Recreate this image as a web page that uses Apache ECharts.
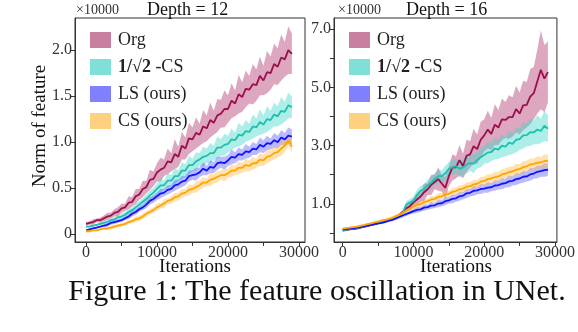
<!DOCTYPE html>
<html>
<head>
<meta charset="utf-8">
<script src="https://cdn.jsdelivr.net/npm/echarts@6/dist/echarts.min.js"></script>
<style>
html,body{margin:0;padding:0;background:#fff;}
#c{width:578px;height:332px;}
</style>
</head>
<body>
<div id="c"></div>
<script>
// Iteration grid (x values)
const ITER = [0,500,1000,1500,2000,2500,3000,3500,4000,4500,
  5000,5500,6000,6500,7000,7500,8000,8500,9000,9500,
  10000,10500,11000,11500,12000,12500,13000,13500,14000,14500,
  15000,15500,16000,16500,17000,17500,18000,18500,19000,19500,
  20000,20500,21000,21500,22000,22500,23000,23500,24000,24500,
  25000,25500,26000,26500,27000,27500,28000,28500,29000];

const SERIES_NAMES = ['Org','1/√2 -CS','LS (ours)','CS (ours)'];

// ---------- Depth = 12 (×10000) ----------
const d12_org = [0.11,0.12,0.13,0.15,0.15,0.17,0.19,0.20,0.23,0.24,
  0.28,0.29,0.34,0.35,0.41,0.43,0.49,0.51,0.59,0.60,
  0.67,0.70,0.72,0.79,0.78,0.87,0.84,0.96,0.93,1.04,
  1.03,1.10,1.08,1.17,1.15,1.24,1.21,1.29,1.31,1.36,
  1.36,1.45,1.42,1.52,1.49,1.58,1.57,1.63,1.62,1.72,
  1.67,1.76,1.75,1.85,1.82,1.92,1.90,2.00,1.96];
const d12_org_sd = [0.02,0.02,0.03,0.02,0.03,0.03,0.04,0.03,0.04,0.05,
  0.05,0.04,0.07,0.05,0.08,0.06,0.09,0.07,0.11,0.08,
  0.10,0.13,0.09,0.14,0.10,0.16,0.11,0.15,0.12,0.17,
  0.13,0.17,0.12,0.18,0.14,0.19,0.13,0.18,0.15,0.20,
  0.15,0.19,0.14,0.21,0.16,0.20,0.15,0.22,0.17,0.21,
  0.16,0.23,0.18,0.22,0.20,0.25,0.19,0.26,0.22];
const d12_cs2 = [0.08,0.08,0.09,0.10,0.11,0.12,0.13,0.15,0.16,0.18,
  0.19,0.21,0.24,0.26,0.29,0.32,0.35,0.38,0.42,0.45,
  0.49,0.53,0.53,0.58,0.58,0.63,0.63,0.69,0.69,0.75,
  0.75,0.79,0.81,0.84,0.85,0.88,0.88,0.94,0.94,0.97,
  0.98,1.03,1.02,1.08,1.07,1.12,1.11,1.17,1.16,1.22,
  1.19,1.25,1.24,1.30,1.28,1.34,1.33,1.40,1.38];
const d12_cs2_sd = [0.01,0.01,0.01,0.01,0.01,0.02,0.02,0.02,0.02,0.02,
  0.03,0.03,0.03,0.03,0.04,0.04,0.04,0.05,0.05,0.05,
  0.06,0.08,0.05,0.08,0.06,0.09,0.06,0.09,0.07,0.10,
  0.07,0.10,0.07,0.11,0.08,0.11,0.08,0.12,0.09,0.12,
  0.09,0.12,0.08,0.13,0.10,0.12,0.09,0.13,0.10,0.14,
  0.10,0.14,0.10,0.13,0.11,0.15,0.11,0.14,0.12];
const d12_ls = [0.04,0.05,0.06,0.07,0.08,0.09,0.10,0.12,0.13,0.14,
  0.15,0.17,0.19,0.22,0.24,0.27,0.29,0.32,0.36,0.38,
  0.41,0.44,0.45,0.48,0.49,0.53,0.54,0.57,0.58,0.63,
  0.64,0.65,0.67,0.71,0.69,0.73,0.72,0.77,0.78,0.77,
  0.80,0.84,0.83,0.87,0.86,0.90,0.89,0.93,0.92,0.97,
  0.95,0.99,0.98,1.02,1.00,1.05,1.03,1.07,1.06];
const d12_ls_sd = [0.01,0.01,0.01,0.01,0.01,0.01,0.02,0.02,0.02,0.02,
  0.02,0.02,0.03,0.03,0.03,0.03,0.03,0.04,0.04,0.04,
  0.04,0.05,0.04,0.05,0.04,0.06,0.05,0.06,0.05,0.06,
  0.05,0.07,0.05,0.07,0.05,0.07,0.06,0.07,0.06,0.07,
  0.06,0.08,0.06,0.07,0.06,0.08,0.06,0.07,0.06,0.08,
  0.07,0.08,0.06,0.08,0.07,0.08,0.07,0.09,0.08];
const d12_cs = [0.03,0.03,0.04,0.04,0.05,0.06,0.06,0.07,0.08,0.09,
  0.10,0.11,0.13,0.14,0.16,0.17,0.19,0.22,0.24,0.26,
  0.29,0.31,0.33,0.36,0.37,0.40,0.41,0.44,0.45,0.48,
  0.49,0.51,0.53,0.56,0.56,0.59,0.60,0.62,0.64,0.64,
  0.66,0.69,0.69,0.72,0.72,0.75,0.74,0.77,0.77,0.81,
  0.80,0.84,0.85,0.88,0.89,0.93,0.96,1.02,0.95];
const d12_cs_sd = [0.01,0.01,0.01,0.01,0.01,0.01,0.01,0.02,0.02,0.02,
  0.02,0.02,0.02,0.02,0.03,0.03,0.03,0.03,0.03,0.03,
  0.04,0.03,0.05,0.03,0.04,0.05,0.04,0.05,0.04,0.06,
  0.04,0.06,0.05,0.06,0.04,0.07,0.05,0.06,0.05,0.07,
  0.05,0.07,0.05,0.07,0.05,0.07,0.06,0.07,0.05,0.07,
  0.06,0.07,0.06,0.07,0.06,0.08,0.07,0.06,0.07];

// ---------- Depth = 16 (×10000) ----------
const d16_org = [0.08,0.10,0.12,0.13,0.15,0.18,0.21,0.24,0.27,0.30,
  0.33,0.36,0.40,0.44,0.48,0.55,0.62,0.72,0.85,0.92,
  1.05,1.15,1.25,1.40,1.50,1.65,1.75,1.85,1.70,1.55,
  1.95,2.25,2.25,2.50,2.30,2.65,2.70,2.98,2.88,3.20,
  3.35,3.55,3.40,3.72,3.62,3.90,3.88,3.98,3.98,4.25,
  4.10,4.38,4.40,4.68,4.80,5.20,5.60,5.30,5.52];
const d16_org_sd = [0.02,0.02,0.02,0.02,0.02,0.03,0.03,0.03,0.03,0.03,
  0.03,0.03,0.04,0.04,0.04,0.05,0.05,0.07,0.10,0.12,
  0.15,0.22,0.18,0.30,0.20,0.35,0.25,0.40,0.28,0.38,
  0.35,0.45,0.38,0.52,0.42,0.55,0.45,0.60,0.50,0.62,
  0.55,0.65,0.55,0.70,0.60,0.72,0.62,0.75,0.68,0.80,
  0.72,0.85,0.78,0.95,0.90,1.10,1.35,1.15,1.05];
const d16_cs2 = [0.10,0.11,0.13,0.15,0.17,0.20,0.23,0.25,0.28,0.31,
  0.34,0.37,0.40,0.44,0.48,0.52,0.58,0.70,0.98,1.05,
  1.10,1.30,1.45,1.50,1.65,1.72,1.85,1.95,1.95,2.05,
  2.20,2.25,2.30,2.20,2.25,2.35,2.40,2.38,2.50,2.60,
  2.68,2.76,2.78,2.90,2.86,3.00,2.96,3.10,3.06,3.20,
  3.22,3.35,3.36,3.46,3.45,3.55,3.50,3.68,3.58];
const d16_cs2_sd = [0.02,0.02,0.02,0.02,0.02,0.02,0.03,0.03,0.03,0.03,
  0.03,0.03,0.04,0.04,0.04,0.05,0.06,0.08,0.12,0.12,
  0.15,0.18,0.16,0.20,0.18,0.22,0.19,0.24,0.20,0.26,
  0.23,0.28,0.24,0.30,0.25,0.32,0.27,0.33,0.28,0.35,
  0.30,0.37,0.31,0.38,0.32,0.40,0.33,0.42,0.35,0.44,
  0.36,0.46,0.38,0.47,0.40,0.50,0.42,0.52,0.46];
const d16_ls = [0.12,0.13,0.15,0.16,0.18,0.20,0.23,0.25,0.28,0.30,
  0.33,0.35,0.38,0.42,0.45,0.50,0.55,0.60,0.65,0.70,
  0.75,0.79,0.81,0.87,0.89,0.94,0.95,1.01,1.02,1.09,
  1.12,1.17,1.19,1.26,1.28,1.36,1.38,1.45,1.46,1.51,
  1.52,1.56,1.57,1.63,1.64,1.69,1.71,1.77,1.79,1.85,
  1.87,1.93,1.94,2.01,2.04,2.10,2.12,2.16,2.17];
const d16_ls_sd = [0.03,0.03,0.03,0.03,0.03,0.03,0.04,0.04,0.04,0.04,
  0.04,0.05,0.05,0.05,0.05,0.06,0.06,0.06,0.07,0.07,
  0.08,0.10,0.08,0.11,0.09,0.12,0.09,0.13,0.10,0.14,
  0.11,0.15,0.12,0.15,0.12,0.16,0.13,0.17,0.13,0.17,
  0.14,0.18,0.14,0.18,0.15,0.19,0.15,0.20,0.16,0.20,
  0.17,0.21,0.17,0.22,0.18,0.22,0.19,0.23,0.21];
const d16_cs = [0.15,0.17,0.18,0.20,0.22,0.24,0.27,0.30,0.33,0.36,
  0.39,0.42,0.45,0.48,0.52,0.57,0.62,0.69,0.76,0.83,
  0.90,0.96,0.99,1.06,1.09,1.15,1.17,1.24,1.26,1.32,
  1.34,1.41,1.44,1.50,1.52,1.59,1.61,1.67,1.69,1.76,
  1.79,1.85,1.87,1.92,1.94,2.01,2.04,2.09,2.11,2.17,
  2.19,2.26,2.29,2.35,2.37,2.41,2.42,2.47,2.48];
const d16_cs_sd = [0.03,0.03,0.03,0.03,0.03,0.04,0.04,0.04,0.04,0.04,
  0.05,0.05,0.05,0.05,0.06,0.06,0.06,0.07,0.07,0.08,
  0.08,0.10,0.08,0.11,0.09,0.12,0.10,0.12,0.11,0.13,
  0.11,0.14,0.12,0.14,0.13,0.15,0.13,0.16,0.14,0.16,
  0.15,0.17,0.15,0.18,0.16,0.18,0.17,0.19,0.17,0.20,
  0.18,0.20,0.19,0.21,0.19,0.22,0.20,0.22,0.22];

// tick / label values
const X_TICKS = [0,5000,10000,15000,20000,25000,30000];
const X_LABELS = [0,10000,20000,30000];
const Y12_TICKS = [0,0.5,1.0,1.5,2.0];
const Y16_TICKS = [0,1,2,3,4,5,6,7];
const Y16_LABELS = [1,3,5,7];

const LINE_COLORS = ['#9c0e4c','#1fbfae','#1212ff','#ffa500'];
const BAND_COLORS = ['rgba(180,60,115,0.45)','rgba(60,215,200,0.42)','rgba(90,90,255,0.42)','rgba(255,185,70,0.42)'];
const LEGEND_COLORS = ['#c97f9f','#7fe0d8','#8080ff','#ffd080'];

const SERIF = '"Liberation Serif","Times New Roman",serif';

// shaded band (mean ± sd) drawn as a polygon through the axis scales
function band(g, idx, mean, sd) {
  return {
    type:'custom', name:SERIES_NAMES[idx], xAxisIndex:g, yAxisIndex:g, silent:true, z:2,
    data:[[ITER[0], mean[0]]],
    encode:{x:0, y:1},
    clip:true,
    itemStyle:{color:LEGEND_COLORS[idx]},
    renderItem:(params, api) => {
      const up = mean.map((m, i) => api.coord([ITER[i], m + sd[i]]));
      const dn = mean.map((m, i) => api.coord([ITER[i], m - sd[i]])).reverse();
      return {type:'polygon', shape:{points:up.concat(dn)}, style:{fill:BAND_COLORS[idx]}};
    }
  };
}
function line(g, idx, mean) {
  return {type:'line', name:SERIES_NAMES[idx], xAxisIndex:g, yAxisIndex:g,
    data: mean.map((m, i) => [ITER[i], m]), symbol:'none', silent:true,
    lineStyle:{color:LINE_COLORS[idx], width:1.8}, itemStyle:{color:LINE_COLORS[idx]}, z:3};
}

const panels = [
  [d12_org, d12_org_sd, d12_cs2, d12_cs2_sd, d12_ls, d12_ls_sd, d12_cs, d12_cs_sd],
  [d16_org, d16_org_sd, d16_cs2, d16_cs2_sd, d16_ls, d16_ls_sd, d16_cs, d16_cs_sd]
];
const series = [];
panels.forEach((p, g) => {
  for (let k = 0; k < 4; k++) series.push(band(g, k, p[2*k], p[2*k+1]));
  for (let k = 0; k < 4; k++) series.push(line(g, k, p[2*k]));
});

const axisCommon = {
  type:'value', splitLine:{show:false},
  axisLine:{show:true, onZero:false, lineStyle:{color:'#333', width:1}},
  axisTick:{show:true, length:4, lineStyle:{color:'#333'}},
};
const lblStyle = {fontFamily:SERIF, fontSize:16, color:'#333'};

function mkLegend(left) {
  return {
    orient:'vertical', left:left, top:31, padding:0,
    itemWidth:21, itemHeight:16, itemGap:9, selectedMode:false,
    data: SERIES_NAMES.map((n, i) => ({name:n, icon:'rect', itemStyle:{color:LEGEND_COLORS[i], borderWidth:0}})),
    formatter: n => n === '1/√2 -CS' ? '{b|1/√2} -CS' : n,
    textStyle:{fontFamily:SERIF, fontSize:18, color:'#222', lineHeight:16, padding:[0,0,0,2],
      rich:{b:{fontFamily:SERIF, fontSize:18, fontWeight:'bold', color:'#222'}}}
  };
}

const option = {
  animation:false,
  backgroundColor:'#fff',
  grid:[
    {left:75, top:18, width:230, height:224, show:true, borderColor:'#333', borderWidth:1},
    {left:334, top:18, width:230, height:224, show:true, borderColor:'#333', borderWidth:1}
  ],
  xAxis:[
    Object.assign({}, axisCommon, {gridIndex:0, min:-1550, max:30850,
      axisTick:Object.assign({}, axisCommon.axisTick, {customValues:X_TICKS}),
      axisLabel:Object.assign({}, lblStyle, {customValues:X_LABELS, margin:3, formatter: v => String(v)})}),
    Object.assign({}, axisCommon, {gridIndex:1, min:-1230, max:30270,
      axisTick:Object.assign({}, axisCommon.axisTick, {customValues:X_TICKS}),
      axisLabel:Object.assign({}, lblStyle, {customValues:X_LABELS, margin:3, formatter: v => String(v)})})
  ],
  yAxis:[
    Object.assign({}, axisCommon, {gridIndex:0, min:-0.087, max:2.35,
      axisTick:Object.assign({}, axisCommon.axisTick, {customValues:Y12_TICKS}),
      axisLabel:Object.assign({}, lblStyle, {customValues:Y12_TICKS, margin:3,
        formatter: v => v === 0 ? '0' : v.toFixed(1)})}),
    Object.assign({}, axisCommon, {gridIndex:1, min:-0.31, max:7.38,
      axisTick:Object.assign({}, axisCommon.axisTick, {customValues:Y16_TICKS}),
      axisLabel:Object.assign({}, lblStyle, {customValues:Y16_LABELS, margin:3,
        formatter: v => v.toFixed(1)})})
  ],
  legend:[mkLegend(90), mkLegend(349)],
  series: series,
  graphic:[
    {type:'text', left:76, top:3, style:{text:'×10000', font:'14px ' + SERIF, fill:'#333'}},
    {type:'text', left:147, top:1, style:{text:'Depth = 12', font:'18px ' + SERIF, fill:'#111'}},
    {type:'text', left:338, top:3, style:{text:'×10000', font:'14px ' + SERIF, fill:'#333'}},
    {type:'text', left:406, top:1, style:{text:'Depth = 16', font:'18px ' + SERIF, fill:'#111'}},
    {type:'text', x:40, y:126, rotation:Math.PI/2,
      style:{text:'Norm of feature', font:'19px ' + SERIF, fill:'#111', align:'center', verticalAlign:'middle'}},
    {type:'text', x:195, y:267, style:{text:'Iterations', font:'19px ' + SERIF, fill:'#111', align:'center', verticalAlign:'middle'}},
    {type:'text', x:456, y:267, style:{text:'Iterations', font:'19px ' + SERIF, fill:'#111', align:'center', verticalAlign:'middle'}},
    {type:'text', x:317, y:292, style:{text:'Figure 1: The feature oscillation in UNet.', font:'30px ' + SERIF, fill:'#111', align:'center', verticalAlign:'middle'}}
  ]
};

const chart = echarts.init(document.getElementById('c'), null, {renderer:'canvas'});
chart.setOption(option);
</script>
</body>
</html>
